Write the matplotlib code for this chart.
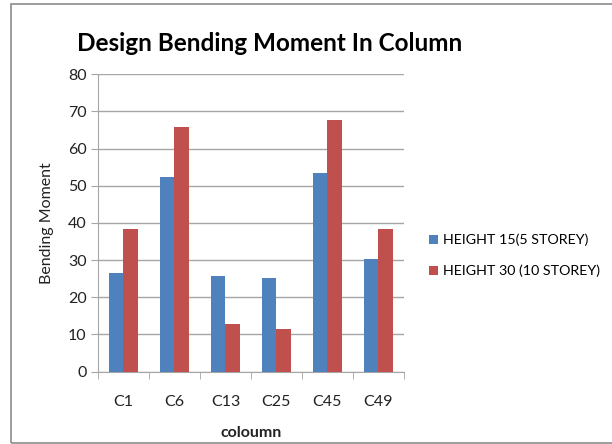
import numpy as np
import matplotlib.pyplot as plt
from matplotlib.patches import Rectangle

plt.rcParams["font.family"] = ["Lato", "DejaVu Sans"]

# 柱子数据
columns = ["C1", "C6", "C13", "C25", "C45", "C49"]
height_15 = [26.6, 52.3, 25.8, 25.1, 53.3, 30.2]
height_30 = [38.4, 65.9, 12.7, 11.4, 67.6, 38.3]
series_names = ["HEIGHT 15(5 STOREY)", "HEIGHT 30 (10 STOREY)"]

blue = "#4F81BD"
red = "#C0504D"
grid_color = "#A6A6A6"

fig = plt.figure(figsize=(6.12, 4.44), dpi=100)
ax = fig.add_axes([0.160, 0.163, 0.500, 0.670])

x = np.arange(len(columns))
w = 0.28
ax.bar(x - w / 2, height_15, w, color=blue, label=series_names[0], zorder=3)
ax.bar(x + w / 2, height_30, w, color=red, label=series_names[1], zorder=3)

ax.set_xlim(-0.5, len(columns) - 0.5)
ax.set_ylim(0, 80)
ax.set_yticks(range(0, 81, 10))
ax.set_xticks(x)
ax.set_xticklabels(columns)
# 类别之间的刻度线
ax.set_xticks(np.arange(-0.5, len(columns), 1), minor=True)
ax.tick_params(axis="x", which="major", length=0, pad=17, labelsize=11.5, colors="#222222")
ax.tick_params(axis="x", which="minor", length=5, color=grid_color, direction="out")
ax.tick_params(axis="y", length=5, color=grid_color, labelsize=11.5, labelcolor="#222222", pad=3)

ax.grid(axis="y", color=grid_color, linewidth=1, zorder=0)
for s in ["top", "right"]:
    ax.spines[s].set_visible(False)
for s in ["left", "bottom"]:
    ax.spines[s].set_color(grid_color)

ax.set_ylabel("Bending Moment", fontsize=11.5, color="#222222", labelpad=10)
ax.set_xlabel("coloumn", fontsize=11.5, fontweight="bold", color="#222222", labelpad=12)

fig.text(0.441, 0.902, "Design Bending Moment In Column", ha="center", va="center",
         fontsize=17.5, fontweight="bold")

ax.legend(loc="center left", bbox_to_anchor=(1.04, 0.39), frameon=False, fontsize=10.3,
          handlelength=0.65, handleheight=0.65, handletextpad=0.35, labelspacing=1.3)

# 外框
fig.patches.append(Rectangle((11 / 612, 1 / 444), 1.0, 1 - 5 / 444, transform=fig.transFigure,
                             fill=False, edgecolor="#8C8C8C", linewidth=1.2))

fig.savefig("out.png", dpi=100)
